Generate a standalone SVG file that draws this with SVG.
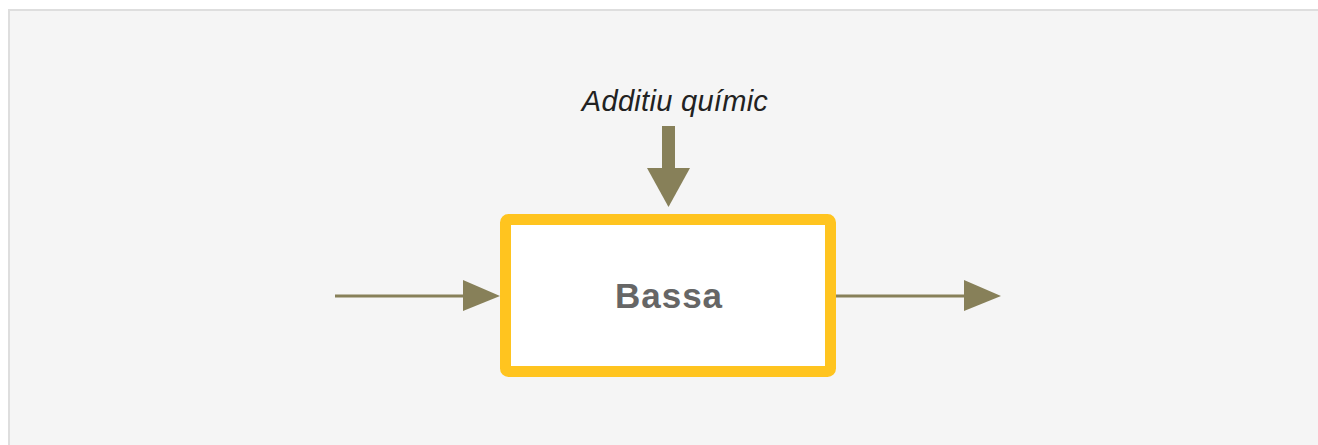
<svg xmlns="http://www.w3.org/2000/svg" width="1318" height="445" viewBox="0 0 1318 445">
  <defs>
    <style>
      .frame { fill: #f5f5f5; stroke: #dedede; stroke-width: 2; }
      .box { fill: #ffffff; stroke: #ffc41f; stroke-width: 11; }
      .conn { stroke: #878059; stroke-width: 3; fill: none; }
      .head { fill: #878059; }
      .label { font-family: "Liberation Sans", Arial, sans-serif; font-size: 35px; font-weight: bold; fill: #666666; letter-spacing: 1px; }
      .input { font-family: "Liberation Sans", Arial, sans-serif; font-size: 29px; font-style: italic; fill: #222222; letter-spacing: 0.3px; }
    </style>
  </defs>
  <rect x="0" y="0" width="1318" height="445" fill="#ffffff"/>
  <rect class="frame" x="9" y="10" width="1320" height="450"/>
  <g id="connectors">
    <line class="conn" x1="335" y1="296" x2="466" y2="296"/>
    <polygon class="head" points="463,280 500,296 463,311"/>
    <line class="conn" x1="836" y1="296" x2="967" y2="296"/>
    <polygon class="head" points="964,280 1001,296 964,311"/>
    <rect class="head" x="662" y="126" width="13" height="44"/>
    <polygon class="head" points="647,168 690,168 668.5,207"/>
  </g>
  <g id="node-additiu">
    <text class="input" x="675" y="110.5" text-anchor="middle">Additiu químic</text>
  </g>
  <g id="node-bassa">
    <rect class="box" x="505.5" y="219.5" width="325" height="152" rx="3"/>
    <text class="label" x="669" y="308" text-anchor="middle">Bassa</text>
  </g>
</svg>
